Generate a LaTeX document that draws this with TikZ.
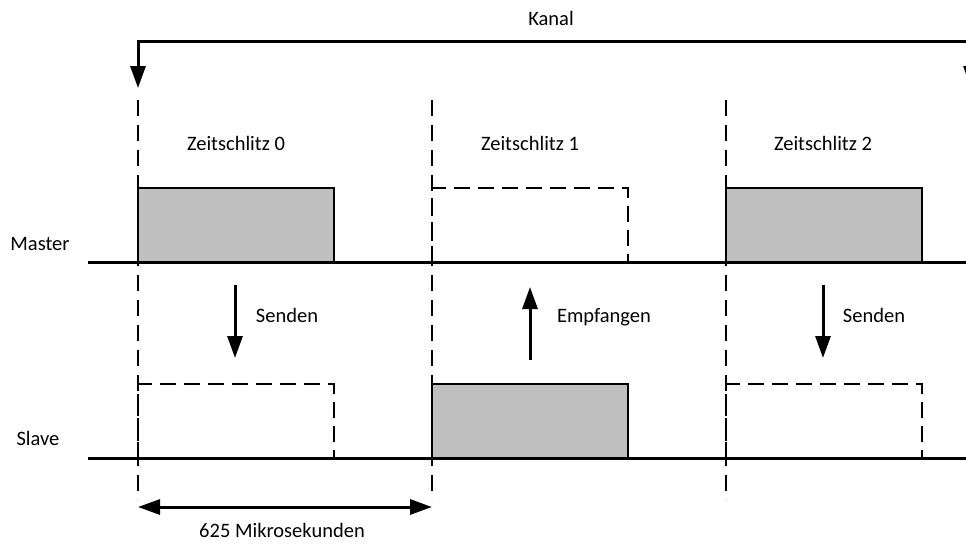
\documentclass[tikz,border=0pt]{standalone}
\usepackage{fontspec}
\setmainfont{Carlito}
\usetikzlibrary{arrows.meta}
\definecolor{slotfill}{HTML}{C0C0C0}
\begin{document}
\begin{tikzpicture}[x=1pt,y=-1pt,
  lbl/.style={font=\fontsize{20.5}{24}\selectfont, inner sep=0pt, anchor=base},
  axisline/.style={line width=3pt},
  bound/.style={line width=2pt, dash pattern=on 16pt off 9pt},
  busy/.style={draw, line width=2pt, fill=slotfill},
  idle/.style={line width=2pt, dash pattern=on 16pt off 8pt},
  flow/.style={line width=3pt, -{Triangle[length=22pt,width=15pt]}},
  span/.style={line width=3pt, {Triangle[length=22pt,width=15pt]}-{Triangle[length=22pt,width=15pt]}},
]
\useasboundingbox (0,0) rectangle (966,544);
\clip (0,0) rectangle (966,544);

% slot boundaries
\foreach \x/\n in {138/a,432/b,726/c}{
  \coordinate (top\n) at (\x,100);
  \coordinate (bot\n) at (\x,500);
  \draw[bound] (top\n) -- (bot\n);
}

% master slots
\draw[busy] (138,188) rectangle (334,262);
\draw[idle] (432,262) -- (432,188) -- (628,188) -- (628,262);
\draw[busy] (726,188) rectangle (922,262);

% slave slots
\draw[idle] (138,458) -- (138,384) -- (334,384) -- (334,458);
\draw[busy] (432,384) rectangle (628,458);
\draw[idle] (726,458) -- (726,384) -- (922,384) -- (922,458);

% time lines
\coordinate (m0) at (88,262); \coordinate (m1) at (970,262);
\coordinate (s0) at (88,458); \coordinate (s1) at (970,458);
\draw[axisline] (m0) -- (m1);
\draw[axisline] (s0) -- (s1);

% channel hopping
\coordinate (k0) at (971,88);
\coordinate (k1) at (138,88);
\draw[span] (k0) -- (971,41) -- (138,41) -- (k1);

% labels
\node[lbl] (kanal) at (551,25) {Kanal};
\node[lbl] (z0) at (236,150) {Zeitschlitz 0};
\node[lbl] (z1) at (530,150) {Zeitschlitz 1};
\node[lbl] (z2) at (823,150) {Zeitschlitz 2};
\node[lbl] (master) at (40,250) {Master};
\node[lbl] (slave) at (38,445) {Slave};
\node[lbl] (send0) at (287,322) {Senden};
\node[lbl] (recv1) at (604,322) {Empfangen};
\node[lbl] (send2) at (874,322) {Senden};
\node[lbl] (dur) at (282,537) {625 Mikrosekunden};

% direction arrows
\coordinate (a0s) at (235,285); \coordinate (a0e) at (235,358);
\coordinate (a1s) at (530,360); \coordinate (a1e) at (530,287);
\coordinate (a2s) at (823,285); \coordinate (a2e) at (823,358);
\draw[flow] (a0s) -- (a0e);
\draw[flow] (a1s) -- (a1e);
\draw[flow] (a2s) -- (a2e);

% slot duration
\coordinate (d0) at (138,507); \coordinate (d1) at (432,507);
\draw[span] (d0) -- (d1);
\end{tikzpicture}
\end{document}
